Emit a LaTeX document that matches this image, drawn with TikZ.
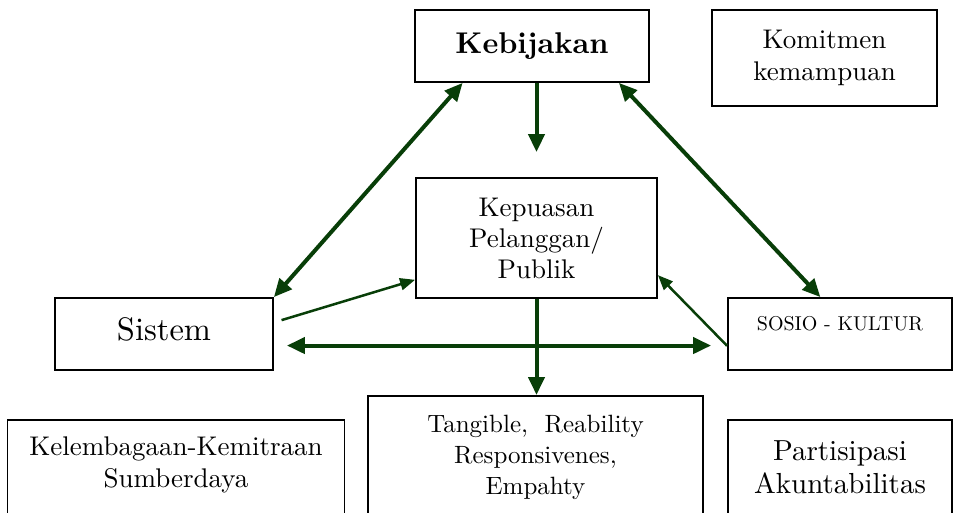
\documentclass[tikz,border=0pt]{standalone}
\usepackage{fontspec}
\setmainfont{lmroman10-regular}[Extension=.otf, BoldFont=lmroman10-bold]
\usetikzlibrary{arrows.meta}
\definecolor{linkgreen}{RGB}{8,62,8}

\begin{document}
\begin{tikzpicture}[x=1pt, y=-1pt,
    box/.style={draw, line width=1.8pt, align=center},
    bigarrow/.style={draw=linkgreen, line width=4pt, >={Triangle[length=18pt,width=16pt]}},
    smallarrow/.style={draw=linkgreen, line width=2.5pt, >={Triangle[length=15pt,width=12pt]}}]

    \useasboundingbox (0,0) rectangle (954,513);
    \clip (0,0) rectangle (954,513);

    % Top row
    \node[box, minimum width=234pt, minimum height=72pt, font=\fontsize{30}{36}\selectfont\bfseries]
        (keb) at (532,46) {Kebijakan};
    \node[box, minimum width=225pt, minimum height=96pt, font=\fontsize{27}{32}\selectfont]
        (kom) at (824.5,58) {Komitmen\\kemampuan};

    % Middle
    \node[box, minimum width=241pt, minimum height=120pt, font=\fontsize{27}{31}\selectfont]
        (kep) at (536.5,238) {Kepuasan\\Pelanggan/\\Publik};
    \node[box, minimum width=218pt, minimum height=72pt, text depth=10pt, font=\fontsize{32.5}{38}\selectfont]
        (sis) at (164,334) {Sistem};
    \node[box, minimum width=224pt, minimum height=72pt, text depth=22pt, font=\fontsize{20}{24}\selectfont]
        (sos) at (840,334) {SOSIO - KULTUR};

    % Bottom row, cut off at the lower edge
    \node[box, anchor=north, minimum width=337pt, inner ysep=17pt, text depth=150pt, font=\fontsize{27}{32}\selectfont]
        (kel) at (176,419) {Kelembagaan-Kemitraan\\Sumberdaya};
    \node[box, anchor=north, minimum width=335pt, inner ysep=19pt, text depth=150pt, font=\fontsize{25}{31}\selectfont]
        (tan) at (535.5,395) {Tangible,~ Reability\\Responsivenes,\\Empahty};
    \node[box, anchor=north, minimum width=224pt, inner ysep=21pt, text depth=150pt, font=\fontsize{29}{33}\selectfont]
        (par) at (840,419) {Partisipasi\\Akuntabilitas};

    % Arrows
    \draw[bigarrow, <->] (keb.208) -- (sis.north east);
    \draw[bigarrow, <->] (keb.337) -- (sos.118);
    \draw[bigarrow, ->, shorten >=25pt] (keb.south -| kep.north) -- (kep.north);
    \draw[bigarrow, ->] (kep.south) -- (kep.south |- tan.north);
    \draw[bigarrow, <->, shorten <=13pt, shorten >=16pt] (sis.354) -- (sis.354 -| sos.west);
    \draw[smallarrow, ->, shorten <=8pt] (sis.6) -- (kep.199);
    \draw[smallarrow, ->] (sos.186) -- (kep.343);

\end{tikzpicture}
\end{document}
